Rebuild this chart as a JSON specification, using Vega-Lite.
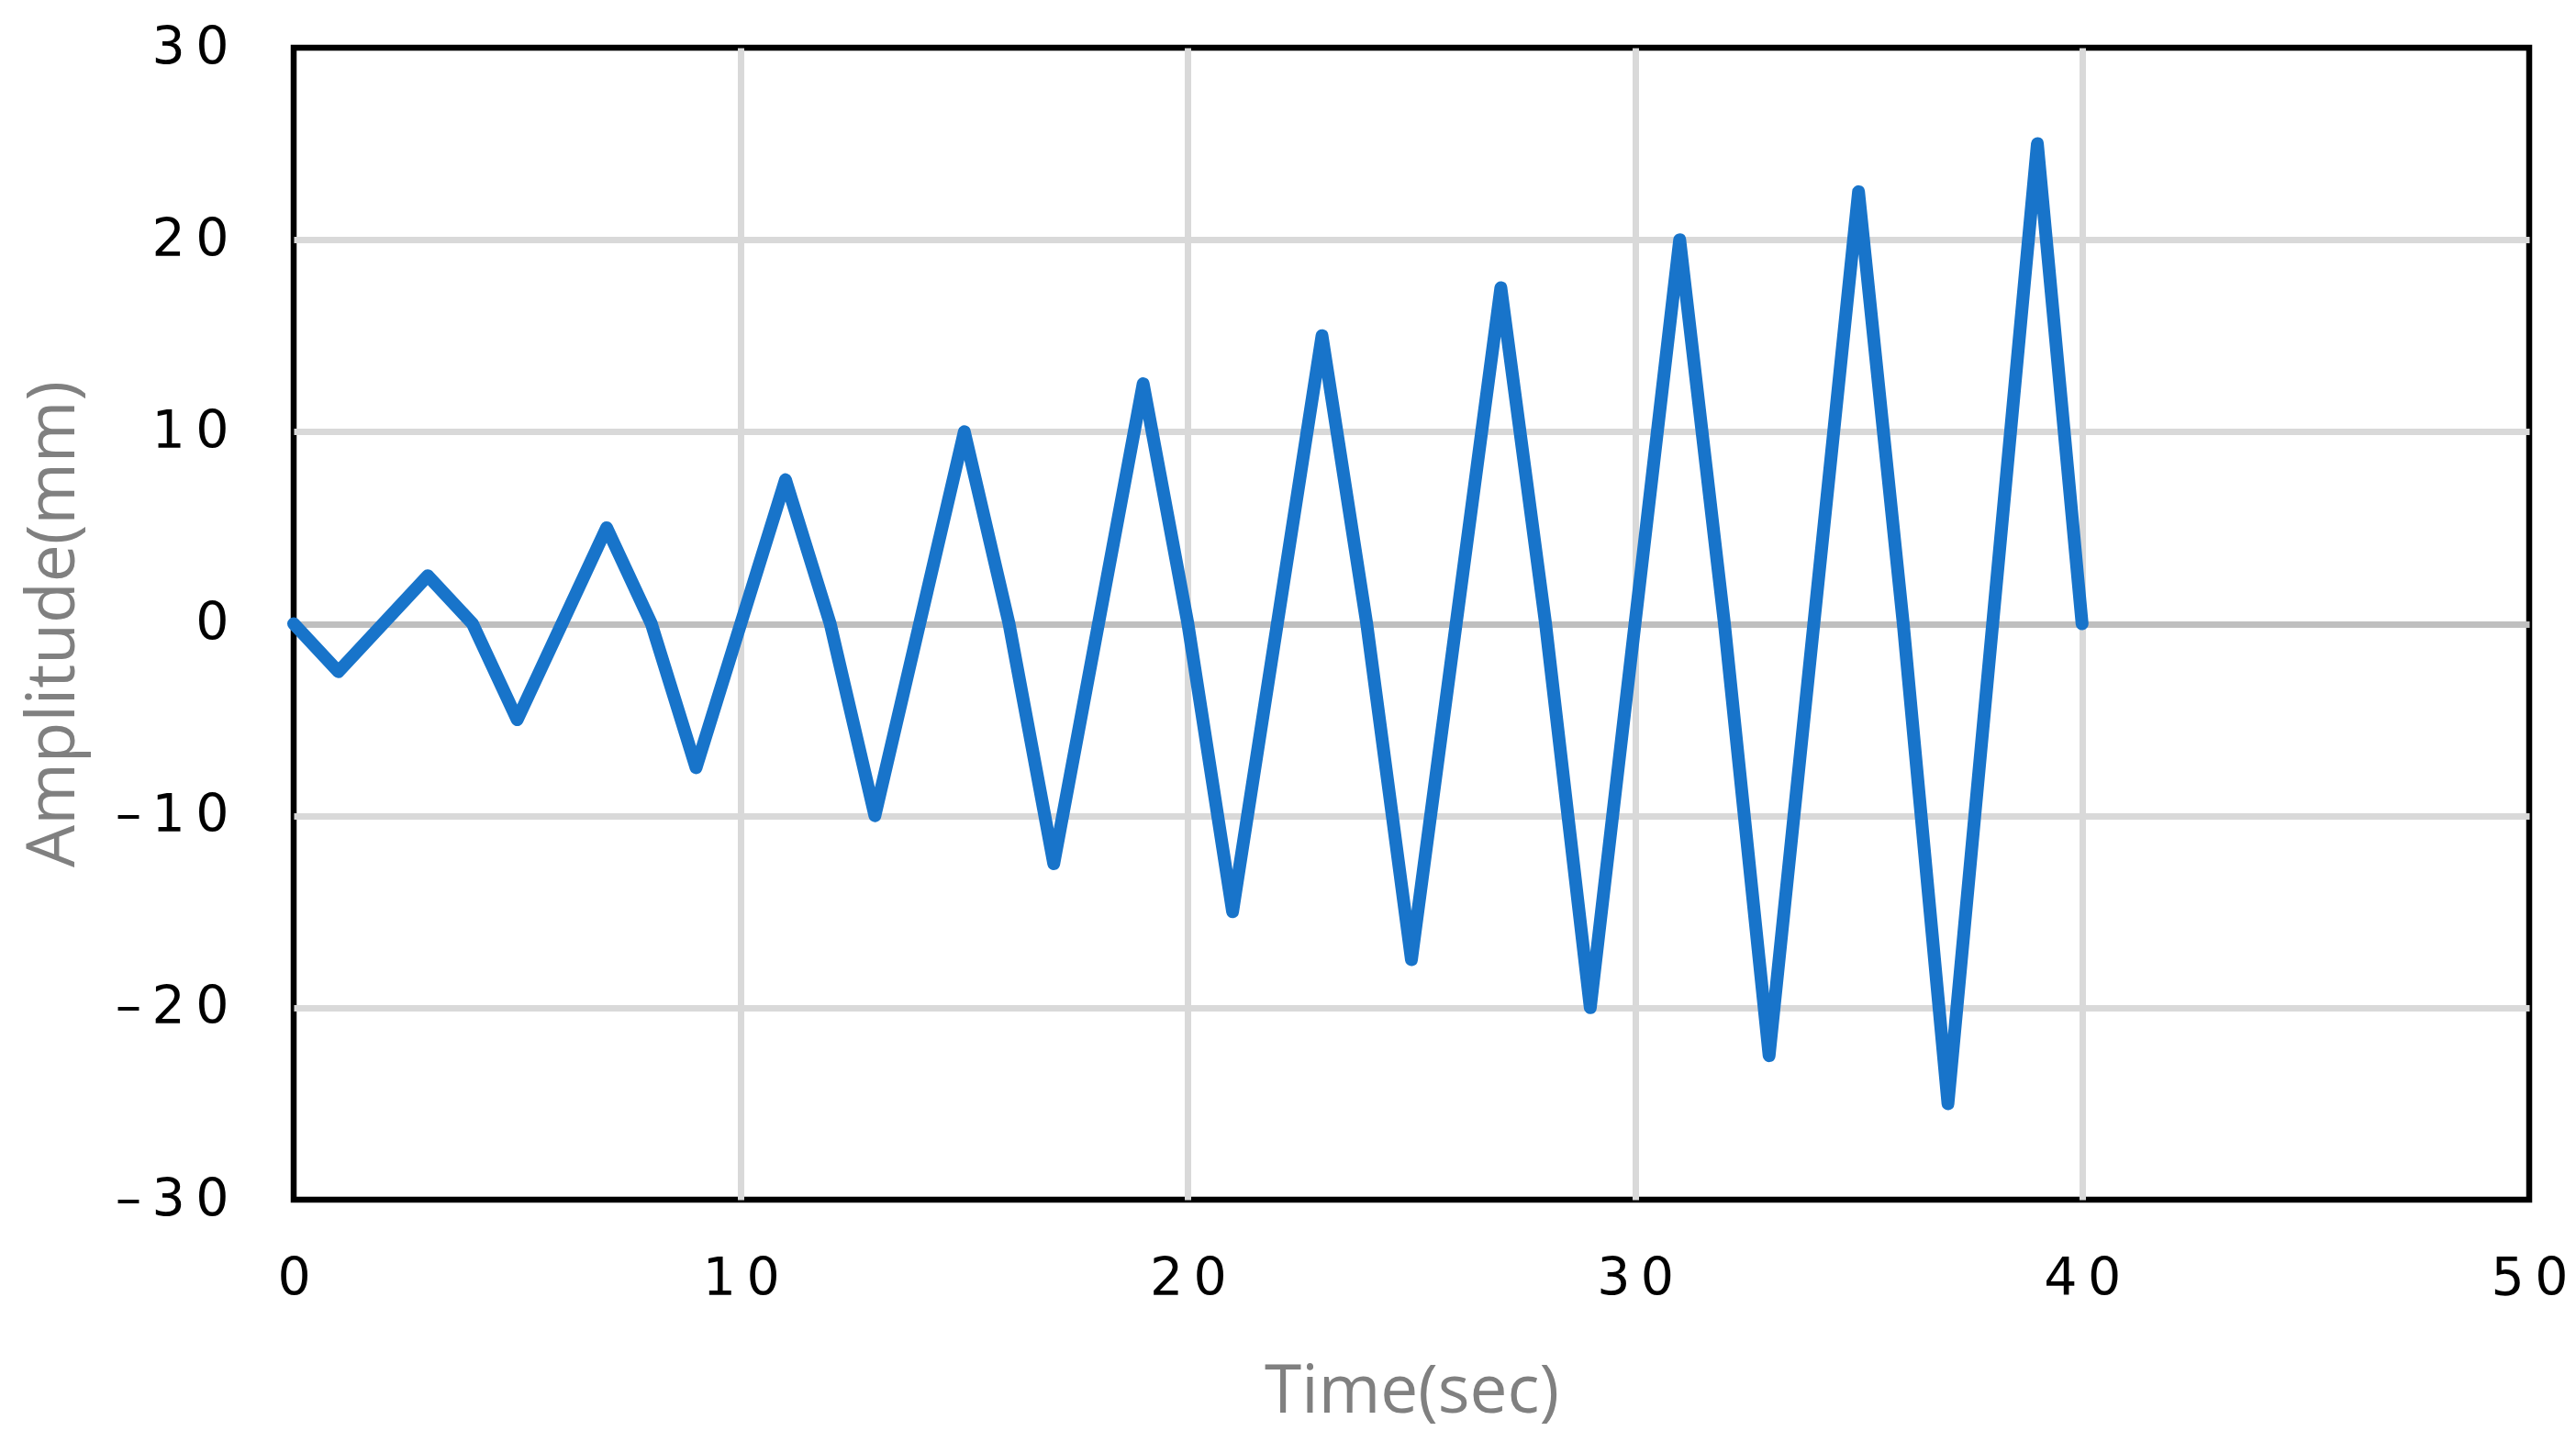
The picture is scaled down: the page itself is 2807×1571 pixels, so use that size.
{
  "$schema": "https://vega.github.io/schema/vega-lite/v6.json",
  "width": 2436,
  "height": 1255,
  "autosize": {"type": "none"},
  "padding": {"left": 320, "top": 52, "right": 51, "bottom": 264},
  "background": "white",
  "config": {
    "view": {"stroke": "#000000", "strokeWidth": 6.5},
    "axis": {
      "domain": false,
      "ticks": false,
      "grid": true,
      "gridWidth": 7,
      "labelFlush": false,
      "labelFont": "DejaVu Sans",
      "labelFontSize": 57,
      "labelColor": "#000000",
      "titleFont": "Open Sans",
      "titleFontSize": 73,
      "titleFontWeight": "normal",
      "titleColor": "#808080"
    }
  },
  "data": {
    "values": [
      {"t": 0, "a": 0}, {"t": 1, "a": -2.5}, {"t": 2, "a": 0}, {"t": 3, "a": 2.5},
      {"t": 4, "a": 0}, {"t": 5, "a": -5}, {"t": 6, "a": 0}, {"t": 7, "a": 5},
      {"t": 8, "a": 0}, {"t": 9, "a": -7.5}, {"t": 10, "a": 0}, {"t": 11, "a": 7.5},
      {"t": 12, "a": 0}, {"t": 13, "a": -10}, {"t": 14, "a": 0}, {"t": 15, "a": 10},
      {"t": 16, "a": 0}, {"t": 17, "a": -12.5}, {"t": 18, "a": 0}, {"t": 19, "a": 12.5},
      {"t": 20, "a": 0}, {"t": 21, "a": -15}, {"t": 22, "a": 0}, {"t": 23, "a": 15},
      {"t": 24, "a": 0}, {"t": 25, "a": -17.5}, {"t": 26, "a": 0}, {"t": 27, "a": 17.5},
      {"t": 28, "a": 0}, {"t": 29, "a": -20}, {"t": 30, "a": 0}, {"t": 31, "a": 20},
      {"t": 32, "a": 0}, {"t": 33, "a": -22.5}, {"t": 34, "a": 0}, {"t": 35, "a": 22.5},
      {"t": 36, "a": 0}, {"t": 37, "a": -25}, {"t": 38, "a": 0}, {"t": 39, "a": 25},
      {"t": 40, "a": 0}
    ]
  },
  "mark": {"type": "line", "color": "#1874CA", "strokeWidth": 14, "strokeCap": "round", "strokeJoin": "round"},
  "encoding": {
    "x": {
      "field": "t", "type": "quantitative",
      "scale": {"domain": [0, 50], "nice": false},
      "axis": {
        "values": [0, 10, 20, 30, 40, 50],
        "title": "Time(sec)",
        "labelPadding": 58,
        "labelExpr": "replace(datum.label, /(.)(?=.)/g, '$1\u2009')",
        "gridColor": {"condition": {"test": "datum.value == 0 || datum.value == 50", "value": "transparent"}, "value": "#d9d9d9"},
        "titleBaseline": "alphabetic",
        "titleY": 231
      }
    },
    "y": {
      "field": "a", "type": "quantitative",
      "scale": {"domain": [-30, 30], "nice": false},
      "axis": {
        "values": [-30, -20, -10, 0, 10, 20, 30],
        "title": "Amplitude(mm)",
        "labelPadding": 71,
        "labelExpr": "replace(replace(replace(datum.label, '\u2212', '\u2013'), '-', '\u2013'), /(.)(?=.)/g, '$1\u2009')",
        "gridColor": {"condition": [{"test": "datum.value == -30 || datum.value == 30", "value": "transparent"}, {"test": "datum.value == 0", "value": "#bfbfbf"}], "value": "#d9d9d9"},
        "titleAngle": -90,
        "titleBaseline": "alphabetic",
        "titleX": -240,
        "titleY": 627.5,
        "titleAlign": "center"
      }
    }
  }
}
